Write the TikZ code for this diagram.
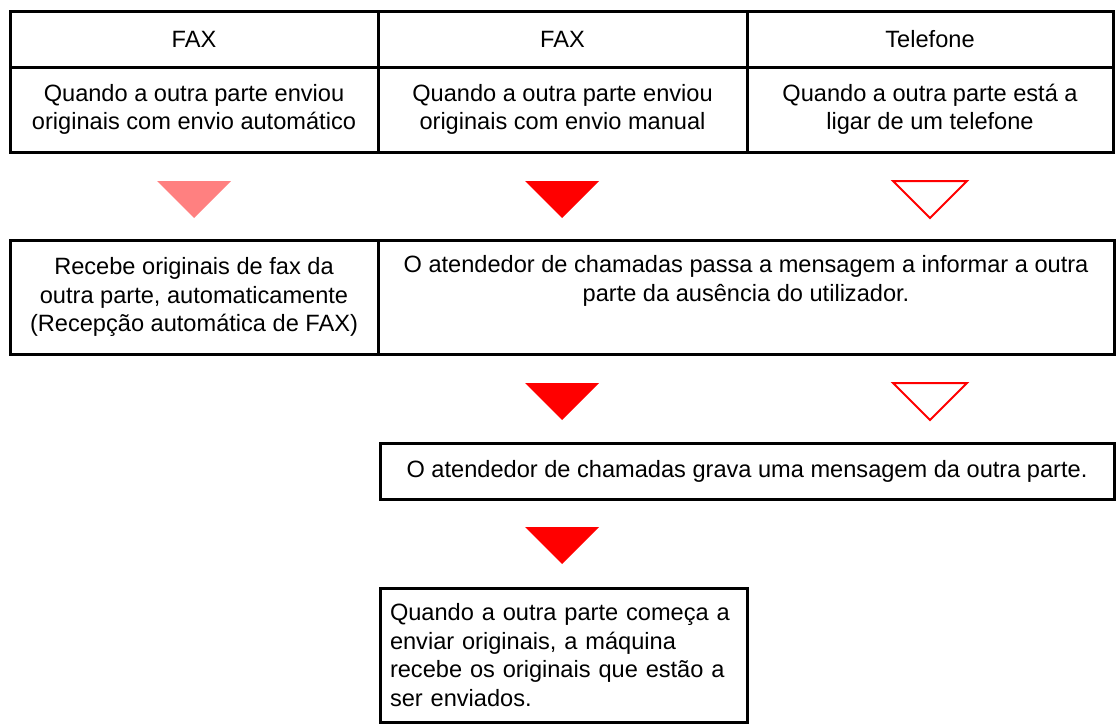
\documentclass[tikz,border=0pt]{standalone}
\usepackage{fontspec}
\setmainfont{Liberation Sans}
\usepackage{xcolor}
\usetikzlibrary{positioning}
\tikzstyle{cell}    = [rectangle, draw=black, line width=3pt, inner sep=0pt, outer sep=0pt, align=center]
\tikzstyle{fulltri} = [fill=red]
\tikzstyle{paletri} = [fill=red!50]
\tikzstyle{opentri} = [draw=red, line width=2pt, line join=miter]
\tikzset{every node/.style={font=\fontsize{23.6}{28.5}\selectfont}}

\begin{document}
\begin{tikzpicture}[x=1pt, y=-1pt]
    \useasboundingbox (0,0) rectangle (1118,725);
    % top table
    \node[cell, minimum width=368pt, minimum height=55pt] (fax1) at (194,39.5) {FAX};
    \node[cell, minimum width=369pt, minimum height=55pt] (fax2) [right=0pt of fax1] {FAX};
    \node[cell, minimum width=366pt, minimum height=55pt] (tel)  [right=0pt of fax2] {Telefone};
    \node[cell, minimum width=368pt, minimum height=85pt] (auto)   [below=0pt of fax1] {Quando a outra parte enviou\\originais com envio automático};
    \node[cell, minimum width=369pt, minimum height=85pt] (manual) [below=0pt of fax2] {Quando a outra parte enviou\\originais com envio manual};
    \node[cell, minimum width=366pt, minimum height=85pt] (call)   [below=0pt of tel]  {Quando a outra parte está a\\ligar de um telefone};

    \fill[paletri] (194,181) ++(-37,0) -- ++(74,0) -- ++(-37,37) -- cycle;
    \fill[fulltri] (562,181) ++(-37,0) -- ++(74,0) -- ++(-37,37) -- cycle;
    \draw[opentri] (930,181) ++(-37,0) -- ++(74,0) -- ++(-37,37) -- cycle;

    \node[cell, minimum width=368pt, minimum height=114pt] (recv) at (194,297) {Recebe originais de fax da\\outra parte, automaticamente\\(Recepção automática de FAX)};
    \node[cell, minimum width=736pt, minimum height=114pt] (msg)  [right=0pt of recv] {O atendedor de chamadas passa a mensagem a informar a outra\\parte da ausência do utilizador.\\ \strut};

    \fill[fulltri] (562,383) ++(-37,0) -- ++(74,0) -- ++(-37,37) -- cycle;
    \draw[opentri] (930,383) ++(-37,0) -- ++(74,0) -- ++(-37,37) -- cycle;

    \node[cell, minimum width=734pt, minimum height=56pt] (rec) at (747,471) {O atendedor de chamadas grava uma mensagem da outra parte.};

    \fill[fulltri] (562,527) ++(-37,0) -- ++(74,0) -- ++(-37,37) -- cycle;

    \node[cell, minimum width=367pt, minimum height=134pt, text width=347pt, align=left] (orig) at (563.5,655) {Quando a outra parte começa a\\enviar originais, a máquina\\recebe os originais que estão a\\ser enviados.};
\end{tikzpicture}
\end{document}
